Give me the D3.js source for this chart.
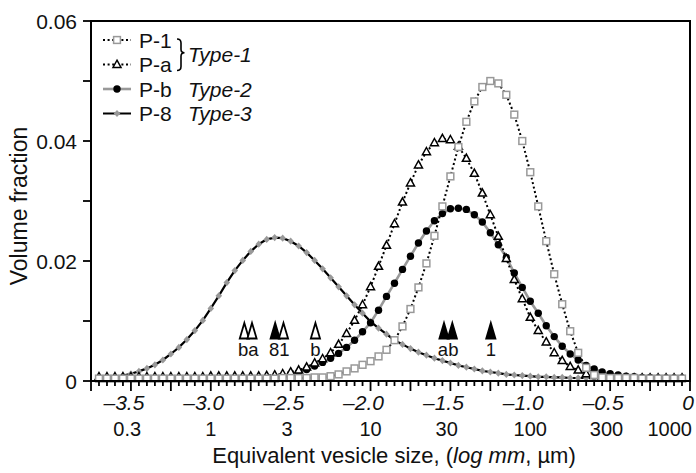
<!DOCTYPE html>
<html>
<head>
<meta charset="utf-8">
<script src="https://cdn.jsdelivr.net/npm/d3@7"></script>
<style>
  body { margin: 0; background: #fff; }
  text { font-family: "Liberation Sans", Arial, Helvetica, sans-serif; fill: #111; }
</style>
</head>
<body>
<div id="graf"></div>
<script>
// bin centres, log10 of size in mm
const logSize = [
  -3.70,-3.65,-3.60,-3.55,-3.50,-3.45,-3.40,-3.35,-3.30,-3.25,
  -3.20,-3.15,-3.10,-3.05,-3.00,-2.95,-2.90,-2.85,-2.80,-2.75,
  -2.70,-2.65,-2.60,-2.55,-2.50,-2.45,-2.40,-2.35,-2.30,-2.25,
  -2.20,-2.15,-2.10,-2.05,-2.00,-1.95,-1.90,-1.85,-1.80,-1.75,
  -1.70,-1.65,-1.60,-1.55,-1.50,-1.45,-1.40,-1.35,-1.30,-1.25,
  -1.20,-1.15,-1.10,-1.05,-1.00,-0.95,-0.90,-0.85,-0.80,-0.75,
  -0.70,-0.65,-0.60,-0.55,-0.50,-0.45,-0.40,-0.35,-0.30,-0.25,
  -0.20,-0.15,-0.10,-0.05
]

const p1 = [
  0.0004,0.0004,0.0004,0.0004,0.0004,0.0004,0.0004,0.0004,0.0004,0.0004,
  0.0004,0.0004,0.0004,0.0004,0.0004,0.0004,0.0004,0.0004,0.0004,0.0004,
  0.0004,0.0004,0.0004,0.0005,0.0005,0.0005,0.0005,0.0006,0.0006,0.0008,
  0.0011,0.0016,0.0021,0.0027,0.0033,0.0041,0.0052,0.0068,0.0091,0.0120,
  0.0156,0.0196,0.0242,0.0291,0.0341,0.0390,0.0432,0.0466,0.0490,0.0500,
  0.0496,0.0477,0.0444,0.0400,0.0348,0.0291,0.0233,0.0178,0.0128,0.0083,
  0.0047,0.0022,0.0010,0.0006,0.0005,0.0005,0.0005,0.0005,0.0004,0.0004,
  0.0004,0.0004,0.0004,0.0004
]

const pa = [
  0.0007,0.0007,0.0007,0.0007,0.0007,0.0007,0.0007,0.0007,0.0007,0.0007,
  0.0007,0.0007,0.0007,0.0007,0.0008,0.0008,0.0008,0.0008,0.0008,0.0008,
  0.0008,0.0009,0.0010,0.0012,0.0015,0.0018,0.0023,0.0030,0.0037,0.0047,
  0.0061,0.0079,0.0101,0.0127,0.0157,0.0191,0.0226,0.0262,0.0298,0.0330,
  0.0360,0.0382,0.0397,0.0404,0.0402,0.0391,0.0371,0.0346,0.0313,0.0277,
  0.0241,0.0204,0.0169,0.0137,0.0106,0.0084,0.0065,0.0047,0.0034,0.0024,
  0.0018,0.0012,0.0009,0.0007,0.0006,0.0006,0.0005,0.0005,0.0005,0.0005,
  0.0005,0.0005,0.0005,0.0005
]

const pb = [
  0.0004,0.0004,0.0004,0.0004,0.0004,0.0004,0.0004,0.0004,0.0004,0.0004,
  0.0004,0.0004,0.0004,0.0004,0.0004,0.0004,0.0004,0.0004,0.0004,0.0004,
  0.0004,0.0005,0.0005,0.0006,0.0009,0.0014,0.0019,0.0025,0.0031,0.0038,
  0.0046,0.0056,0.0068,0.0082,0.0097,0.0118,0.0141,0.0163,0.0186,0.0208,
  0.0230,0.0250,0.0267,0.0279,0.0287,0.0288,0.0286,0.0277,0.0265,0.0247,
  0.0227,0.0206,0.0180,0.0156,0.0133,0.0113,0.0092,0.0074,0.0058,0.0045,
  0.0035,0.0026,0.0020,0.0015,0.0012,0.0010,0.0008,0.0007,0.0006,0.0006,
  0.0005,0.0005,0.0005,0.0005
]

const p8 = [
  0.0004,0.0005,0.0007,0.0009,0.0012,0.0016,0.0021,0.0027,0.0035,0.0045,
  0.0056,0.0069,0.0084,0.0101,0.0121,0.0142,0.0164,0.0184,0.0201,0.0216,
  0.0228,0.0236,0.0239,0.0238,0.0233,0.0225,0.0214,0.0201,0.0187,0.0172,
  0.0157,0.0142,0.0127,0.0113,0.0099,0.0088,0.0078,0.0068,0.0061,0.0054,
  0.0048,0.0043,0.0038,0.0034,0.0030,0.0026,0.0023,0.0020,0.0017,0.0015,
  0.0013,0.0011,0.0010,0.0009,0.0008,0.0007,0.0007,0.0006,0.0006,0.0005,
  0.0005,0.0005,0.0005,0.0005,0.0005,0.0005,0.0005,0.0005,0.0004,0.0004,
  0.0004,0.0004,0.0004,0.0004
]

// modes marked by small arrows
const modeLog    = [-2.790, -2.742, -2.597, -2.545, -2.345, -1.540, -1.488, -1.247]
const modeSample = ["b", "a", "8", "1", "b", "a", "b", "1"]
const modeFilled = [false, false, true, false, false, true, true, true]

// tick labels
const logTicks = [-3.5, -3.0, -2.5, -2.0, -1.5, -1.0, -0.5, 0]
const umTicks = [0.3, 1, 3, 10, 30, 100, 300, 1000]
const yTicks = [0, 0.02, 0.04, 0.06]

const series = [
  {name: "P-8", values: p8, line: "#000", dash: null, lw: 2.2, mark: "diamond"},
  {name: "P-b", values: pb, line: "#999", dash: null, lw: 2.6, mark: "circle"},
  {name: "P-a", values: pa, line: "#000", dash: "2,2.6", lw: 2, mark: "triangle"},
  {name: "P-1", values: p1, line: "#000", dash: "2,2.6", lw: 2, mark: "square"}
]

const width = 696
const height = 473
const margin = ({top: 21, right: 6, bottom: 92, left: 91})

const x = d3.scaleLinear()
    .domain([-3.75, 0])
    .range([margin.left, width - margin.right])

const y = d3.scaleLinear()
    .domain([0, 0.06])
    .range([height - margin.bottom, margin.top])

const svg = d3.select("#graf").append("svg")
    .attr("width", width)
    .attr("height", height)

const markShape = (g, mark, cx, cy) => {
  if (mark == "square") {
    g.append("rect").attr("x", cx - 3.4).attr("y", cy - 3.4).attr("width", 6.8).attr("height", 6.8)
      .attr("fill", "#fff").attr("stroke", "#999").attr("stroke-width", 1.5)
  } else if (mark == "triangle") {
    g.append("path").attr("d", `M${cx},${cy - 4.3}L${cx + 4},${cy + 2.9}L${cx - 4},${cy + 2.9}Z`)
      .attr("fill", "#fff").attr("stroke", "#000").attr("stroke-width", 1.5)
  } else if (mark == "circle") {
    g.append("circle").attr("cx", cx).attr("cy", cy).attr("r", 3.7).attr("fill", "#000")
  } else {
    g.append("path").attr("d", `M${cx},${cy - 3.6}L${cx + 3.3},${cy}L${cx},${cy + 3.6}L${cx - 3.3},${cy}Z`)
      .attr("fill", "#999")
  }
}

// curves
const line = d3.line().x((d, i) => x(logSize[i])).y(d => y(d))
series.forEach(s => {
  svg.append("path")
      .attr("fill", "none")
      .attr("stroke", s.line)
      .attr("stroke-width", s.lw)
      .attr("stroke-dasharray", s.dash)
      .attr("d", line(s.values))
  const g = svg.append("g")
  s.values.forEach((v, i) => markShape(g, s.mark, x(logSize[i]), y(v)))
})

// frame
svg.append("rect")
    .attr("x", x(-3.75)).attr("y", y(0.06))
    .attr("width", x(0) - x(-3.75)).attr("height", y(0) - y(0.06))
    .attr("fill", "none").attr("stroke", "#000").attr("stroke-width", 2)

// x axis ticks
const xTicks = d3.range(0, 76).map(i => -3.75 + i * 0.05)
svg.append("g").selectAll("line")
  .data(xTicks)
  .join("line")
    .attr("x1", d => x(d)).attr("x2", d => x(d))
    .attr("y1", y(0))
    .attr("y2", (d, i) => y(0) + (i % 5 == 0 ? 10 : 5))
    .attr("stroke", "#000").attr("stroke-width", 1.8)

svg.append("g").selectAll("text")
  .data(logTicks)
  .join("text")
    .attr("x", d => x(d) + (d < 0 ? -7 : -2))
    .attr("y", 410)
    .attr("text-anchor", "middle")
    .attr("font-size", 21)
    .attr("font-style", "italic")
    .text(d => d == 0 ? "0" : "\u2013" + Math.abs(d).toFixed(1))

svg.append("g").selectAll("text")
  .data(umTicks)
  .join("text")
    .attr("x", d => d == 1000 ? x(0) + 2 : x(Math.log10(d / 1000)))
    .attr("y", 436)
    .attr("text-anchor", d => d == 1000 ? "end" : "middle")
    .attr("font-size", 20)
    .text(d => d)

const xTitle = svg.append("text")
    .attr("x", 394).attr("y", 463)
    .attr("text-anchor", "middle")
    .attr("font-size", 22)
xTitle.append("tspan").text("Equivalent vesicle size, (")
xTitle.append("tspan").attr("font-style", "italic").text("log mm")
xTitle.append("tspan").text(", \u00b5m)")

// y axis
svg.append("g").selectAll("line")
  .data(d3.range(0, 7).map(i => i * 0.01))
  .join("line")
    .attr("x1", x(-3.75) - 8).attr("x2", x(-3.75))
    .attr("y1", d => y(d)).attr("y2", d => y(d))
    .attr("stroke", "#000").attr("stroke-width", 1.8)

svg.append("g").selectAll("text")
  .data(yTicks)
  .join("text")
    .attr("x", 77)
    .attr("y", d => y(d))
    .attr("dy", "0.36em")
    .attr("text-anchor", "end")
    .attr("font-size", 21)
    .text(d => d == 0 ? "0" : d.toFixed(2))

svg.append("text")
    .attr("transform", "translate(27,206) rotate(-90)")
    .attr("text-anchor", "middle")
    .attr("font-size", 23)
    .text("Volume fraction")

// mode arrows
const modes = modeLog.map((v, i) => ({v, s: modeSample[i], f: modeFilled[i]}))
svg.append("g").selectAll("path")
  .data(modes)
  .join("path")
    .attr("d", d => `M${x(d.v)},323L${x(d.v) + 4.6},338.5L${x(d.v) - 4.6},338.5Z`)
    .attr("fill", d => d.f ? "#000" : "#fff")
    .attr("stroke", "#000").attr("stroke-width", 1.8).attr("stroke-linejoin", "miter")

// labels of close arrows are joined
const groups = []
modes.forEach(d => {
  const last = groups[groups.length - 1]
  if (last && d.v - last[last.length - 1].v < 0.1) last.push(d)
  else groups.push([d])
})
svg.append("g").selectAll("text")
  .data(groups)
  .join("text")
    .attr("x", g => d3.mean(g, d => x(d.v)))
    .attr("y", 356)
    .attr("text-anchor", "middle")
    .attr("font-size", 18.5)
    .text(g => g.map(d => d.s).join(""))

// legend
const legendRows = [
  {name: "P-1", mark: "square", line: "#000", dash: "2,2.6"},
  {name: "P-a", mark: "triangle", line: "#000", dash: "2,2.6"},
  {name: "P-b", mark: "circle", line: "#999", dash: null},
  {name: "P-8", mark: "diamond", line: "#000", dash: null}
]
const legendY = [40, 64.5, 89, 113.5]
const legend = svg.append("g")
legendRows.forEach((r, i) => {
  const ly = legendY[i]
  legend.append("line")
      .attr("x1", 103).attr("x2", 131).attr("y1", ly).attr("y2", ly)
      .attr("stroke", r.line).attr("stroke-width", r.mark == "circle" ? 2.6 : 2)
      .attr("stroke-dasharray", r.dash)
  markShape(legend, r.mark, 117, ly)
  legend.append("text")
      .attr("x", 139).attr("y", ly).attr("dy", "0.36em")
      .attr("font-size", 21)
      .text(r.name)
})
const braceMid = (legendY[0] + legendY[1]) / 2 + 1
legend.append("path")
    .attr("d", `M177,${legendY[0] - 1}q4,0 4,4v${braceMid - legendY[0] - 7}q0,3.5 3.5,3.5q-3.5,0 -3.5,3.5v${legendY[1] + 6 - braceMid - 7}q0,4 -4,4`)
    .attr("fill", "none").attr("stroke", "#000").attr("stroke-width", 1.6)
const types = [["Type-1", braceMid + 1], ["Type-2", legendY[2]], ["Type-3", legendY[3]]]
types.forEach(([t, ty]) => {
  legend.append("text")
      .attr("x", 188).attr("y", ty).attr("dy", "0.36em")
      .attr("font-size", 21).attr("font-style", "italic")
      .text(t)
})
</script>
</body>
</html>
